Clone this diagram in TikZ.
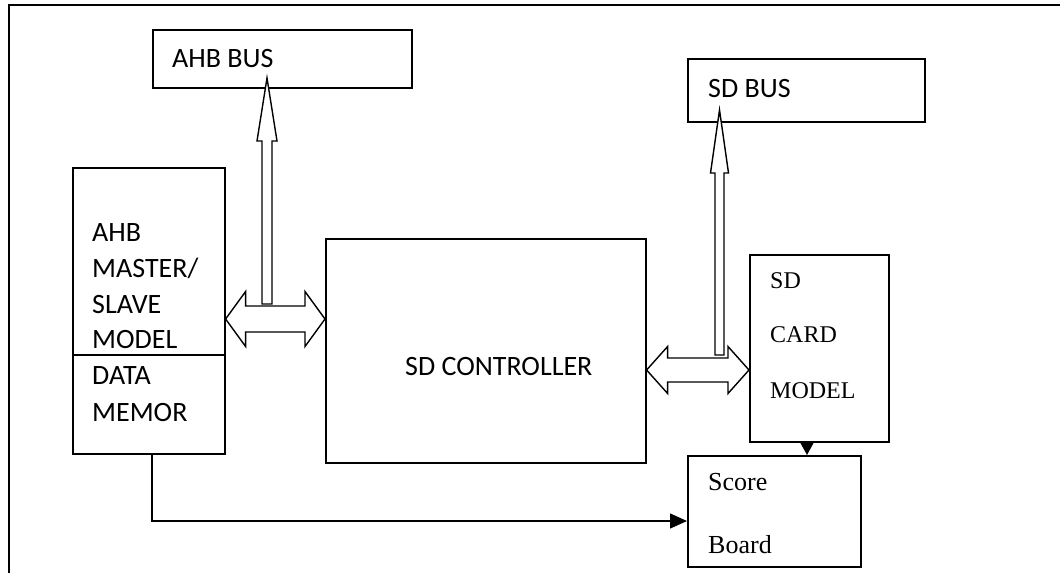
\documentclass[tikz,border=0pt]{standalone}
\usepackage{fontspec}
\setmainfont{Carlito}
\newfontfamily\serifface{Liberation Serif}
\usetikzlibrary{arrows.meta,calc}
\begin{document}
\begin{tikzpicture}[x=1pt,y=-1pt,
  box/.style={draw,line width=1.6pt,inner sep=0,anchor=north west},
  txt/.style={anchor=base west,inner sep=0},
  sans/.style={font=\fontsize{28}{34}\selectfont},
  serif/.style={font=\serifface\fontsize{24}{28}\selectfont},
  serifbig/.style={font=\serifface\fontsize{26}{30}\selectfont},
  blockarrow/.style={draw,fill=white,line width=1.4pt,line join=miter},
  flow/.style={draw,line width=1.4pt,-{Triangle[length=17pt,width=15pt]}}]
\useasboundingbox (0,0) rectangle (1060,573);

% outer frame (top and left only)
\draw[line width=2.6pt] (1060,5) -- (9,5) -- (9,573);

% blocks
\node[box,minimum width=259pt,minimum height=58pt] (ahbbus) at (152,29) {};
\node[box,minimum width=237pt,minimum height=63pt] (sdbus) at (687,58) {};
\node[box,minimum width=152pt,minimum height=187pt] (master) at (72,167) {};
\node[box,minimum width=152pt,minimum height=99pt] (datamem) at (72,354) {};
\node[box,minimum width=320pt,minimum height=224pt] (ctrl) at (325,238) {};
\node[box,minimum width=139pt,minimum height=187pt] (card) at (749,254) {};
\node[box,minimum width=173pt,minimum height=111pt] (score) at (687,455) {};

% labels
\node[txt,sans] (ahbbusT) at (172,67) {AHB BUS};
\node[txt,sans] (sdbusT) at (708,97) {SD BUS};
\node[txt,sans] (m1) at (92,241) {AHB};
\node[txt,sans] (m2) at (92,277) {MASTER/};
\node[txt,sans] (m3) at (92,313) {SLAVE};
\node[txt,sans] (m4) at (92,348) {MODEL};
\node[txt,sans] (d1) at (92,384) {DATA};
\node[txt,sans] (d2) at (92,421) {MEMOR};
\node[txt,sans] (ctrlT) at (405,375) {SD CONTROLLER};
\node[txt,serif] (c1) at (770,288) {SD};
\node[txt,serif] (c2) at (770,342) {CARD};
\node[txt,serif] (c3) at (770,398) {MODEL};
\node[txt,serifbig] (s1) at (708,490) {Score};
\node[txt,serifbig] (s2) at (708,553) {Board};

% hollow bus arrows: shaft foot and tip
\coordinate (ahbfoot) at (267,304);
\coordinate (ahbtip) at (267,78);
\coordinate (sdfoot) at (719.5,355);
\coordinate (sdtip) at (719.5,110);

\draw[blockarrow] let \p1=(ahbfoot), \p2=(ahbtip) in
  (\x1-5pt,\y1) -- (\x1-5pt,\y2-63pt) -- (\x1-10pt,\y2-63pt) -- (\x2,\y2)
  -- (\x1+10pt,\y2-63pt) -- (\x1+5pt,\y2-63pt) -- (\x1+5pt,\y1) -- cycle;
\draw[blockarrow] let \p1=(sdfoot), \p2=(sdtip) in
  (\x1-4.5pt,\y1) -- (\x1-4.5pt,\y2-63pt) -- (\x1-9pt,\y2-63pt) -- (\x2,\y2)
  -- (\x1+9pt,\y2-63pt) -- (\x1+4.5pt,\y2-63pt) -- (\x1+4.5pt,\y1) -- cycle;

% hollow double arrows between the blocks
\coordinate (la) at (master.east |- 0,319);
\coordinate (lb) at (ctrl.west |- 0,319);
\draw[blockarrow] let \p1=(la), \p2=(lb) in
  (\x1,\y1) -- (\x1+20pt,\y1+27.5pt) -- (\x1+20pt,\y1+13pt) -- (\x2-20pt,\y1+13pt)
  -- (\x2-20pt,\y1+27.5pt) -- (\x2,\y1) -- (\x2-20pt,\y1-27.5pt) -- (\x2-20pt,\y1-13pt)
  -- (\x1+20pt,\y1-13pt) -- (\x1+20pt,\y1-27.5pt) -- cycle;

\coordinate (ra) at (ctrl.east |- 0,370);
\coordinate (rb) at (card.west |- 0,370);
\draw[blockarrow] let \p1=(ra), \p2=(rb) in
  (\x1,\y1) -- (\x1+21pt,\y1+23.5pt) -- (\x1+21pt,\y1+12pt) -- (\x2-21pt,\y1+12pt)
  -- (\x2-21pt,\y1+23.5pt) -- (\x2,\y1) -- (\x2-21pt,\y1-23.5pt) -- (\x2-21pt,\y1-12pt)
  -- (\x1+21pt,\y1-12pt) -- (\x1+21pt,\y1-23.5pt) -- cycle;

% result flows into the score board
\draw[flow] (datamem.south -| 152,0) |- (score.west |- 0,521);
\draw[line width=1.4pt,-{Triangle[length=14pt,width=15pt]}]
  (card.south -| 807,0) -- (score.north -| 807,0);
\end{tikzpicture}
\end{document}
